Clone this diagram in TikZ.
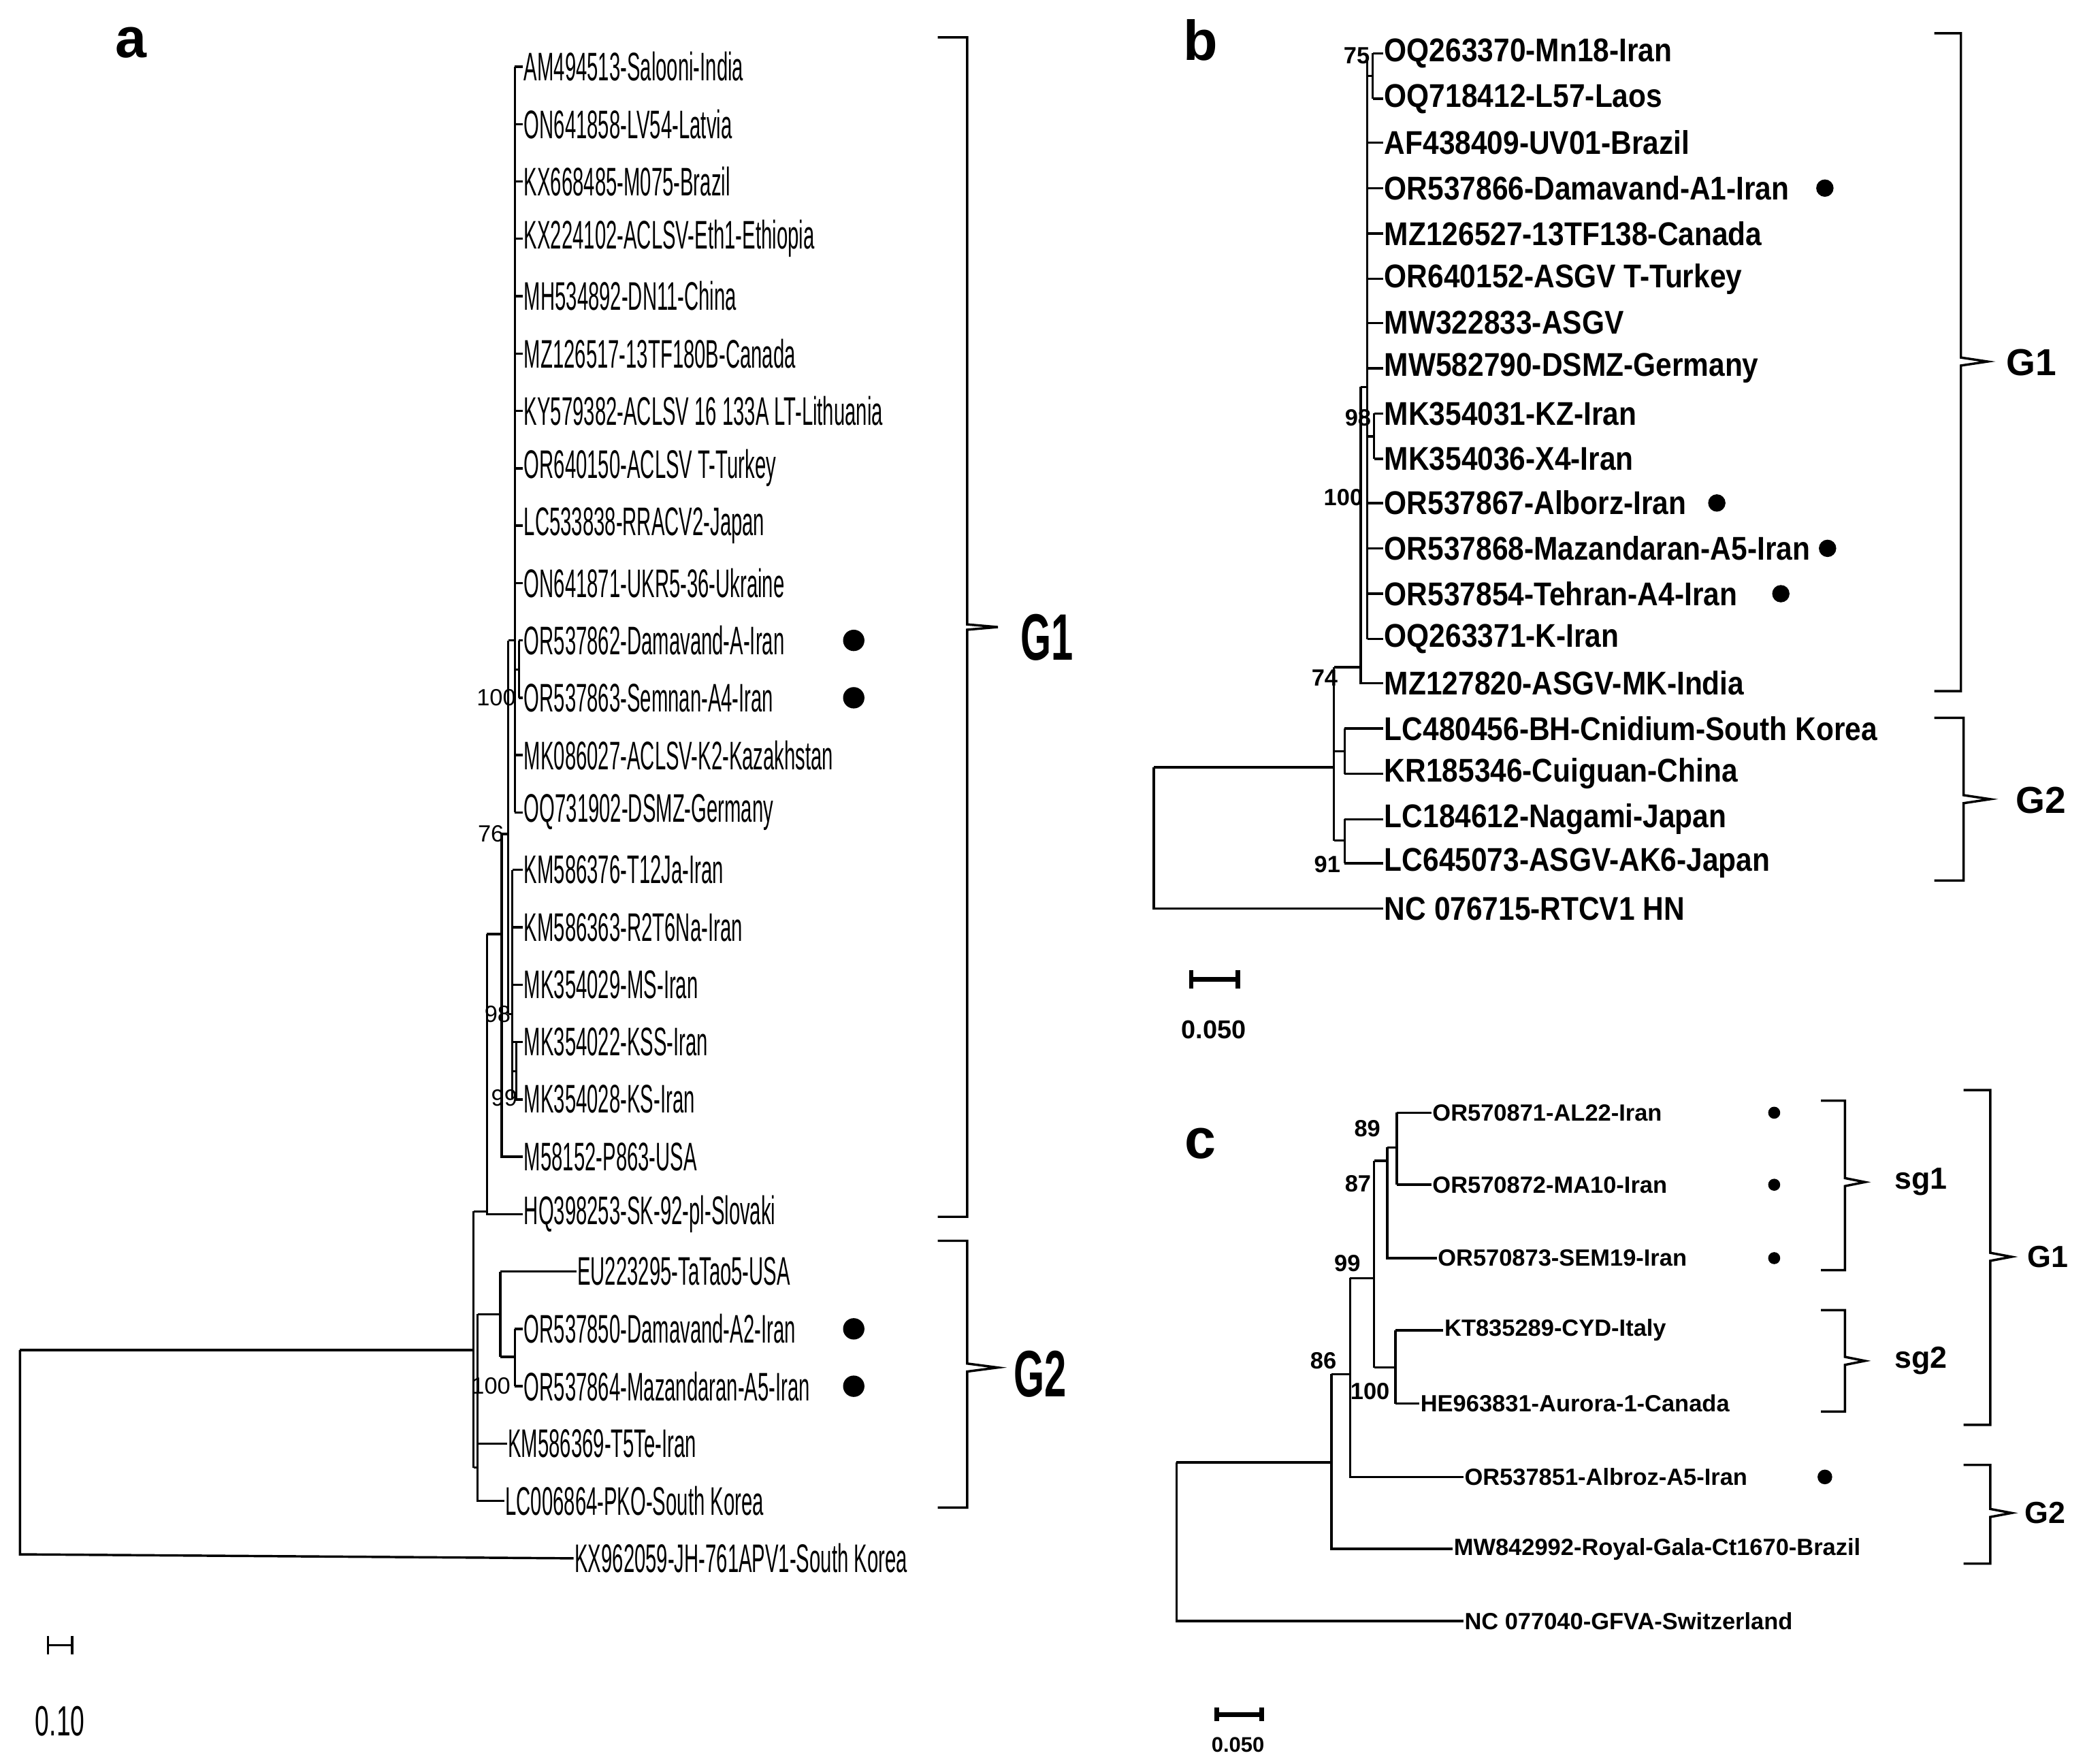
\documentclass[tikz,border=0pt]{standalone}
\usepackage{fontspec}
\setmainfont{Liberation Sans}
\usetikzlibrary{calc}
\begin{document}
\begin{tikzpicture}[x=0.01cm,y=-0.01cm,line width=0.5pt,
 la/.style={anchor=west,inner sep=0,font=\fontsize{8.5}{9}\selectfont},
 lb/.style={anchor=west,inner sep=0,font=\fontsize{7}{8}\bfseries\selectfont},
 lc/.style={anchor=west,inner sep=0,font=\fontsize{5}{6}\bfseries\selectfont},
 bs/.style={inner sep=0,font=\fontsize{5}{6}\selectfont},
 bsb/.style={inner sep=0,font=\fontsize{5}{6}\bfseries\selectfont},
 dot/.style={circle,fill=black,inner sep=0,minimum size=#1},
 gl/.style={inner sep=0,font=\fontsize{14}{16}\bfseries\selectfont},
 pl/.style={inner sep=0,font=\fontsize{12}{14}\bfseries\selectfont}]
\useasboundingbox (0,0) rectangle (1563,1322);
\newcommand\LA[3]{\node[la] (#1) at (392,#2) {\scalebox{0.5}[1]{#3}};}
% ---------- panel a ----------
\node[pl] (pa) at (98,32) {a};
\LA{a1}{50}{AM494513-Salooni-India}
\LA{a2}{93}{ON641858-LV54-Latvia}
\LA{a3}{136}{KX668485-M075-Brazil}
\LA{a4}{179}{KX224102-ACLSV-Eth1-Ethiopia}
\LA{a5}{222}{MH534892-DN11-China}
\LA{a6}{265}{MZ126517-13TF180B-Canada}
\LA{a7}{308}{KY579382-ACLSV 16 133A LT-Lithuania}
\LA{a8}{351}{OR640150-ACLSV T-Turkey}
\LA{a9}{394}{LC533838-RRACV2-Japan}
\LA{a10}{437}{ON641871-UKR5-36-Ukraine}
\LA{a11}{480}{OR537862-Damavand-A-Iran}
\LA{a12}{523}{OR537863-Semnan-A4-Iran}
\LA{a13}{566}{MK086027-ACLSV-K2-Kazakhstan}
\LA{a14}{609}{OQ731902-DSMZ-Germany}
\LA{a15}{652}{KM586376-T12Ja-Iran}
\LA{a16}{695}{KM586363-R2T6Na-Iran}
\LA{a17}{738}{MK354029-MS-Iran}
\LA{a18}{781}{MK354022-KSS-Iran}
\LA{a19}{824}{MK354028-KS-Iran}
\LA{a20}{867}{M58152-P863-USA}
\LA{a21}{910}{HQ398253-SK-92-pl-Slovaki}
\node[la] (a22) at (432,953) {\scalebox{0.5}[1]{EU223295-TaTao5-USA}};
\LA{a23}{996}{OR537850-Damavand-A2-Iran}
\LA{a24}{1039}{OR537864-Mazandaran-A5-Iran}
\node[la] (a25) at (380,1082) {\scalebox{0.5}[1]{KM586369-T5Te-Iran}};
\node[la] (a26) at (378,1125) {\scalebox{0.5}[1]{LC006864-PKO-South Korea}};
\node[la] (a27) at (430,1168) {\scalebox{0.5}[1]{KX962059-JH-761APV1-South Korea}};
% tree a
\draw (15,1012) -- (15,1165) -- (a27.west);
\draw (15,1012) -- (355,1012);
\draw (355,908) -- (355,1100);
\draw (355,908) -- (365,908); \draw (355,1100) -- (358,1100);
\draw (365,700) -- (365,910) -- (a21.west);
\draw (365,700) -- (376,700);
\draw (376,625) -- (376,867) -- (a20.west);
\draw (376,625) -- (381,625);
\draw (381,480) -- (381,760);
\draw (381,480) -- (386,480);
\draw (386,50) -- (386,609);
\foreach \i/\y in {a1/50,a2/93,a3/136,a4/179,a5/222,a6/265,a7/308,a8/351,a9/394,a10/437,a13/566,a14/609}{\draw (386,\y) -- (\i.west);}
\draw (386,502) -- (389,502); \draw (389,480) -- (389,523);
\draw (389,480) -- (a11.west); \draw (389,523) -- (a12.west);
\draw (381,760) -- (384,760); \draw (384,652) -- (384,824);
\foreach \i/\y in {a15/652,a16/695,a17/738,a18/781}{\draw (384,\y) -- (\i.west);}
\draw (384,803) -- (387,803); \draw (387,781) -- (387,824) -- (a19.west);
\draw (358,985) -- (358,1125) -- (a26.west);
\draw (358,1082) -- (a25.west);
\draw (358,985) -- (375,985); \draw (375,953) -- (375,1017);
\draw (375,953) -- (a22.west); \draw (375,1017) -- (386,1017);
\draw (386,996) -- (386,1039); \draw (386,996) -- (a23.west); \draw (386,1039) -- (a24.west);
\node[bs] at (372,523) {100}; \node[bs] at (368,625) {76};
\node[bs] at (373,760) {98}; \node[bs] at (378,823) {99}; \node[bs] at (368,1039) {100};
\foreach \y in {480,523,996,1039}{\node[dot=0.16cm] at (640,\y) {};}
\draw (703,28) -- (725,28) -- (725,468) -- (748,470) -- (725,472) -- (725,912) -- (703,912);
\draw (703,930) -- (725,930) -- (725,1022) -- (748,1025) -- (725,1028) -- (725,1130) -- (703,1130);
\node[gl] (g1a) at (785,478) {\scalebox{0.6}[1]{G1}};
\node[gl] (g2a) at (780,1030) {\scalebox{0.6}[1]{G2}};
\draw (36,1233) -- (54,1233); \draw (36,1226) -- (36,1240); \draw (54,1226) -- (54,1240);
\node[inner sep=0,font=\fontsize{9}{10}\selectfont] at (45,1290) {\scalebox{0.6}[1]{0.10}};
% ---------- panel b ----------
\node[pl] (pb) at (900,30) {b};
\foreach \n/\y/\t in {b1/40/OQ263370-Mn18-Iran,b2/74/OQ718412-L57-Laos,b3/107/AF438409-UV01-Brazil,b4/141/OR537866-Damavand-A1-Iran,b5/175/MZ126527-13TF138-Canada,b6/209/OR640152-ASGV T-Turkey,b7/242/MW322833-ASGV/FT146-USA,b8/276/MW582790-DSMZ-Germany,b9/310/MK354031-KZ-Iran,b10/344/MK354036-X4-Iran,b11/377/OR537867-Alborz-Iran,b12/411/OR537868-Mazandaran-A5-Iran,b13/445/OR537854-Tehran-A4-Iran,b14/479/OQ263371-K-Iran,b15/512/MZ127820-ASGV-MK-India,b16/546/LC480456-BH-Cnidium-South Korea,b17/580/KR185346-Cuiguan-China,b18/614/LC184612-Nagami-Japan,b19/647/LC645073-ASGV-AK6-Japan,b20/681/NC 076715-RTCV1 HN/Qionghai-Ch}{\node[lb] (\n) at (1037,\y) {\scalebox{0.88}[1]{\t}};}
\draw (865,575) -- (865,681) -- (b20.west);
\draw (865,575) -- (1000,575);
\draw (1000,500) -- (1000,630);
\draw (1000,500) -- (1020,500);
\draw (1020,290) -- (1020,512) -- (b15.west);
\draw (1020,290) -- (1025,290);
\draw (1025,42) -- (1025,479);
\foreach \i/\y in {b3/107,b4/141,b5/175,b6/209,b7/242,b8/276,b11/377,b12/411,b13/445,b14/479}{\draw (1025,\y) -- (\i.west);}
\draw (1025,57) -- (1029,57); \draw (1029,40) -- (1029,74); \draw (1029,40) -- (b1.west); \draw (1029,74) -- (b2.west);
\draw (1025,327) -- (1030,327); \draw (1030,310) -- (1030,344); \draw (1030,310) -- (b9.west); \draw (1030,344) -- (b10.west);
\draw (1000,563) -- (1008,563); \draw (1008,546) -- (1008,580); \draw (1008,546) -- (b16.west); \draw (1008,580) -- (b17.west);
\draw (1000,630) -- (1008,630); \draw (1008,614) -- (1008,647); \draw (1008,614) -- (b18.west); \draw (1008,647) -- (b19.west);
\node[bsb] at (1017,42) {75}; \node[bsb] at (1018,313) {98}; \node[bsb] at (1007,373) {100};
\node[bsb] at (993,508) {74}; \node[bsb] at (995,648) {91};
\node[dot=0.13cm] at (1368,141) {}; \node[dot=0.13cm] at (1287,377) {};
\node[dot=0.13cm] at (1370,411) {}; \node[dot=0.13cm] at (1335,445) {};
\draw (1450,25) -- (1470,25) -- (1470,268) -- (1490,271) -- (1470,274) -- (1470,518) -- (1450,518);
\draw (1450,538) -- (1472,538) -- (1472,596) -- (1492,599) -- (1472,602) -- (1472,660) -- (1450,660);
\node[inner sep=0,font=\fontsize{8}{9}\bfseries\selectfont] at (1523,272) {G1};
\node[inner sep=0,font=\fontsize{8}{9}\bfseries\selectfont] at (1530,600) {G2};
\draw[line width=1pt] (893,734) -- (928,734); \draw[line width=1pt] (893,727) -- (893,741); \draw[line width=1pt] (928,727) -- (928,741);
\node[inner sep=0,font=\fontsize{5.5}{6}\bfseries\selectfont] at (910,772) {0.050};
% ---------- panel c ----------
\node[pl] (pc) at (900,857) {c};
\node[lc] (c1) at (1073,834) {OR570871-AL22-Iran};
\node[lc] (c2) at (1073,888) {OR570872-MA10-Iran};
\node[lc] (c3) at (1077,943) {OR570873-SEM19-Iran};
\node[lc] (c4) at (1082,997) {KT835289-CYD-Italy};
\node[lc] (c5) at (1064,1052) {HE963831-Aurora-1-Canada};
\node[lc] (c6) at (1097,1107) {OR537851-Albroz-A5-Iran};
\node[lc] (c7) at (1089,1161) {MW842992-Royal-Gala-Ct1670-Brazil};
\node[lc] (c8) at (1097,1215) {NC 077040-GFVA-Switzerland};
\draw (882,1096) -- (882,1215) -- (c8.west);
\draw (882,1096) -- (998,1096);
\draw (998,1030) -- (998,1161) -- (c7.west);
\draw (998,1030) -- (1012,1030);
\draw (1012,958) -- (1012,1107) -- (c6.west);
\draw (1012,958) -- (1030,958);
\draw (1030,870) -- (1030,1025);
\draw (1030,870) -- (1040,870); \draw (1030,1025) -- (1046,1025);
\draw (1040,860) -- (1040,943) -- (c3.west);
\draw (1040,860) -- (1047,860); \draw (1047,834) -- (1047,888);
\draw (1047,834) -- (c1.west); \draw (1047,888) -- (c2.west);
\draw (1046,997) -- (1046,1052); \draw (1046,997) -- (c4.west); \draw (1046,1052) -- (c5.west);
\node[bsb] at (1025,846) {89}; \node[bsb] at (1018,887) {87}; \node[bsb] at (1010,947) {99};
\node[bsb] at (992,1020) {86}; \node[bsb] at (1027,1043) {100};
\foreach \y in {834,888,943}{\node[dot=0.09cm] at (1330,\y) {};}
\node[dot=0.11cm] at (1368,1107) {};
\draw (1365,825) -- (1383,825) -- (1383,883) -- (1398,886) -- (1383,889) -- (1383,952) -- (1365,952);
\draw (1365,982) -- (1383,982) -- (1383,1017) -- (1398,1020) -- (1383,1023) -- (1383,1058) -- (1365,1058);
\draw (1472,817) -- (1492,817) -- (1492,939) -- (1508,942) -- (1492,945) -- (1492,1068) -- (1472,1068);
\draw (1472,1098) -- (1492,1098) -- (1492,1131) -- (1508,1134) -- (1492,1137) -- (1492,1172) -- (1472,1172);
\node[inner sep=0,font=\fontsize{6.5}{7}\bfseries\selectfont] at (1440,886) {sg1};
\node[inner sep=0,font=\fontsize{6.5}{7}\bfseries\selectfont] at (1440,1020) {sg2};
\node[inner sep=0,font=\fontsize{6.5}{7}\bfseries\selectfont] at (1535,942) {G1};
\node[inner sep=0,font=\fontsize{6.5}{7}\bfseries\selectfont] at (1533,1134) {G2};
\draw[line width=1pt] (912,1285) -- (946,1285); \draw[line width=1pt] (912,1280) -- (912,1290); \draw[line width=1pt] (946,1280) -- (946,1290);
\node[inner sep=0,font=\fontsize{4.5}{5}\bfseries\selectfont] at (928,1308) {0.050};
\end{tikzpicture}
\end{document}
